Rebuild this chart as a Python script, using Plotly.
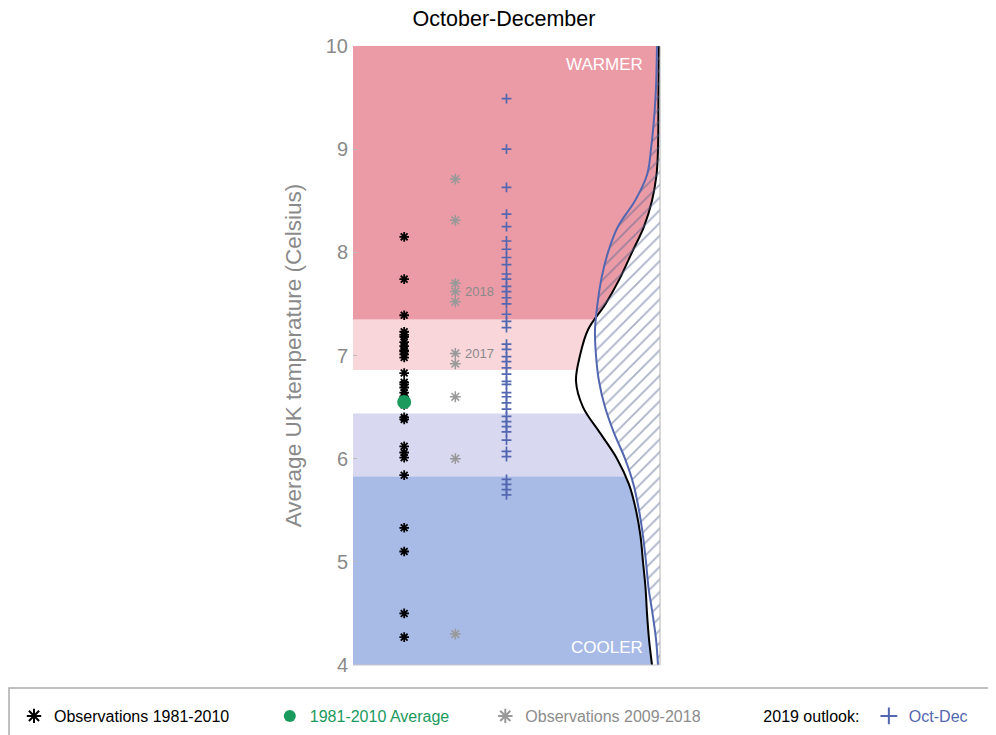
import plotly.graph_objects as go

# ---------------- data ----------------
obs_1981_2010 = [8.15, 7.74, 7.39, 7.23, 7.20, 7.18, 7.13, 7.09, 7.05, 7.04,
                 7.01, 6.98, 6.83, 6.74, 6.72, 6.69, 6.64, 6.60, 6.56, 6.52,
                 6.40, 6.38, 6.12, 6.06, 6.01, 5.84, 5.33, 5.10, 4.50, 4.27]
avg_1981_2010 = 6.55
obs_2009_2018 = [8.71, 8.31, 7.70, 7.62, 7.52, 7.02, 6.92, 6.60, 6.00, 4.30]
labelled_years = ["2018", "2017"]
labelled_values = [7.62, 7.02]
outlook_members = [9.49, 9.00, 8.63, 8.37, 8.25, 8.11, 8.03, 7.95, 7.88, 7.79,
                   7.74, 7.67, 7.62, 7.56, 7.50, 7.40, 7.33, 7.27, 7.11, 7.06,
                   6.99, 6.94, 6.88, 6.82, 6.75, 6.72, 6.64, 6.60, 6.54, 6.48,
                   6.41, 6.36, 6.31, 6.26, 6.18, 6.07, 6.02, 5.80, 5.75, 5.70,
                   5.65]
column_pos = [1, 2, 3]

# probability density curves (per deg C)
pdf_temps = [10.0, 9.5, 9.0, 8.75, 8.5, 8.25, 8.0, 7.75, 7.5, 7.25, 7.0, 6.75,
             6.5, 6.25, 6.0, 5.75, 5.5, 5.25, 5.0, 4.75, 4.5, 4.25, 4.0]
clim_pdf = [0.01, 0.015, 0.02, 0.035, 0.08, 0.16, 0.28, 0.40, 0.545, 0.72, 0.80,
            0.84, 0.77, 0.60, 0.43, 0.31, 0.24, 0.195, 0.17, 0.145, 0.13, 0.11, 0.08]
outlook_pdf = [0.03, 0.045, 0.09, 0.13, 0.25, 0.42, 0.52, 0.585, 0.625, 0.65,
               0.64, 0.61, 0.55, 0.46, 0.35, 0.265, 0.21, 0.17, 0.14, 0.115,
               0.075, 0.04, 0.02]

# category bands (edges, colours)
band_edges = [4.0, 5.83, 6.44, 6.86, 7.35, 10.0]
band_colors = ["#a8bae6", "#d8d9f1", "#ffffff", "#f8d6da", "#eb9ba6"]

y_ticks = [4, 5, 6, 7, 8, 9, 10]

GREEN = "#1b9a5d"
GREY = "#8c8c8c"
BLUE = "#5367b0"
FONT = "Liberation Sans"
NB = "&nbsp;"
W, H = 988, 727   # page adds an 8px body margin

fig = go.Figure()

# observations
fig.add_trace(go.Scatter(
    x=[column_pos[0]] * len(obs_1981_2010), y=obs_1981_2010, mode="markers",
    marker=dict(symbol="asterisk-open", size=8, color="black",
                line=dict(color="black", width=1.8)),
    name="Observations 1981-2010" + NB * 8))
fig.add_trace(go.Scatter(
    x=[column_pos[0]], y=[avg_1981_2010], mode="markers",
    marker=dict(symbol="circle", size=14, color=GREEN),
    name="<span style='color:%s'>1981-2010 Average</span>" % GREEN + NB * 7))
fig.add_trace(go.Scatter(
    x=[column_pos[1]] * len(obs_2009_2018), y=obs_2009_2018, mode="markers",
    marker=dict(symbol="asterisk-open", size=9, color="#999999",
                line=dict(color="#999999", width=1.5)),
    name="<span style='color:%s'>Observations 2009-2018</span>" % GREY + NB * 4))
# legend label only
fig.add_trace(go.Scatter(
    x=[None], y=[None], mode="markers",
    marker=dict(size=1, color="rgba(0,0,0,0)"),
    name="2019 outlook:" + NB))
fig.add_trace(go.Scatter(
    x=[column_pos[2]] * len(outlook_members), y=outlook_members, mode="markers",
    marker=dict(symbol="cross-thin-open", size=7, color=BLUE,
                line=dict(color=BLUE, width=1.7)),
    name="<span style='color:%s'>Oct-Dec</span>" % BLUE))

# pdf curves on overlaid axis
fig.add_trace(go.Scatter(
    x=clim_pdf, y=pdf_temps, xaxis="x2", mode="lines", line_shape="spline",
    fill="tozerox", fillcolor="white", line=dict(color="black", width=2),
    showlegend=False, hoverinfo="skip"))
fig.add_trace(go.Scatter(
    x=outlook_pdf, y=pdf_temps, xaxis="x2", mode="lines", line_shape="spline",
    fill="tozerox", fillcolor="rgba(0,0,0,0)",
    fillpattern=dict(shape="/", size=9, solidity=0.2, fgcolor="#56648f",
                     bgcolor="rgba(0,0,0,0)"),
    line=dict(color=BLUE, width=2), showlegend=False, hoverinfo="skip"))

shapes = []
for i, c in enumerate(band_colors):
    shapes.append(dict(type="rect", xref="x domain", yref="y", x0=0, x1=1,
                       y0=band_edges[i], y1=band_edges[i + 1],
                       fillcolor=c, line_width=0, layer="below"))
shapes.append(dict(type="line", xref="x domain", yref="y domain", x0=1, x1=1, y0=0, y1=1,
                   line=dict(color="#b0b0b0", width=1)))
shapes.append(dict(type="line", xref="x domain", yref="y domain", x0=0, x1=1, y0=0, y1=0,
                   line=dict(color="#c8c8c8", width=1)))
# legend frame
shapes.append(dict(type="rect", xref="paper", yref="paper",
                   x0=1 / W, x1=1.01, y0=1 - 680 / H, y1=-0.02,
                   line=dict(color="#aaaaaa", width=1.5), fillcolor="rgba(0,0,0,0)"))

annotations = []
for yr, v in zip(labelled_years, labelled_values):
    annotations.append(dict(x=column_pos[1] + 0.14, y=v, text=yr, showarrow=False,
                            xanchor="left", font=dict(size=13, color="#8a8a8a", family=FONT)))
annotations.append(dict(x=0.951, y=0.97, xref="x domain", yref="y domain", text="WARMER",
                        showarrow=False, xanchor="right", yanchor="middle",
                        font=dict(size=17, color="white", family=FONT)))
annotations.append(dict(x=0.951, y=0.028, xref="x domain", yref="y domain", text="COOLER",
                        showarrow=False, xanchor="right", yanchor="middle",
                        font=dict(size=17, color="white", family=FONT)))

fig.update_layout(
    width=W, height=H,
    margin=dict(l=0, r=0, t=0, b=0),
    paper_bgcolor="white", plot_bgcolor="rgba(0,0,0,0)",
    font=dict(family=FONT, color="black"),
    title=dict(text="October-December", x=496 / W, xanchor="center",
               y=1 - 10 / H, yanchor="middle", font=dict(size=21.5, color="black")),
    xaxis=dict(domain=[345 / W, 652 / W], range=[0, 6], showgrid=False,
               zeroline=False, showticklabels=False, ticks="", showline=False),
    xaxis2=dict(range=[3.07, 0], overlaying="x", showgrid=False, zeroline=False,
                showticklabels=False, ticks="", showline=False, visible=False),
    yaxis=dict(domain=[1 - 657 / H, 1 - 38 / H], range=[4, 10], tickvals=y_ticks,
               showgrid=False, zeroline=False, automargin=False,
               ticks="inside", ticklen=4, tickcolor="#bbbbbb", ticklabelstandoff=4,
               tickfont=dict(size=20, color="#8a8a8a"),
               title=dict(text="Average UK temperature (Celsius)", standoff=17,
                          font=dict(size=22.5, color="#8a8a8a"))),
    shapes=shapes, annotations=annotations,
    showlegend=True,
    legend=dict(orientation="h", xref="paper", x=6 / W, xanchor="left",
                yref="paper", y=1 - 708 / H, yanchor="middle",
                font=dict(size=16, family=FONT), itemsizing="constant",
                bgcolor="rgba(0,0,0,0)"),
)

fig.write_html("out.html")
